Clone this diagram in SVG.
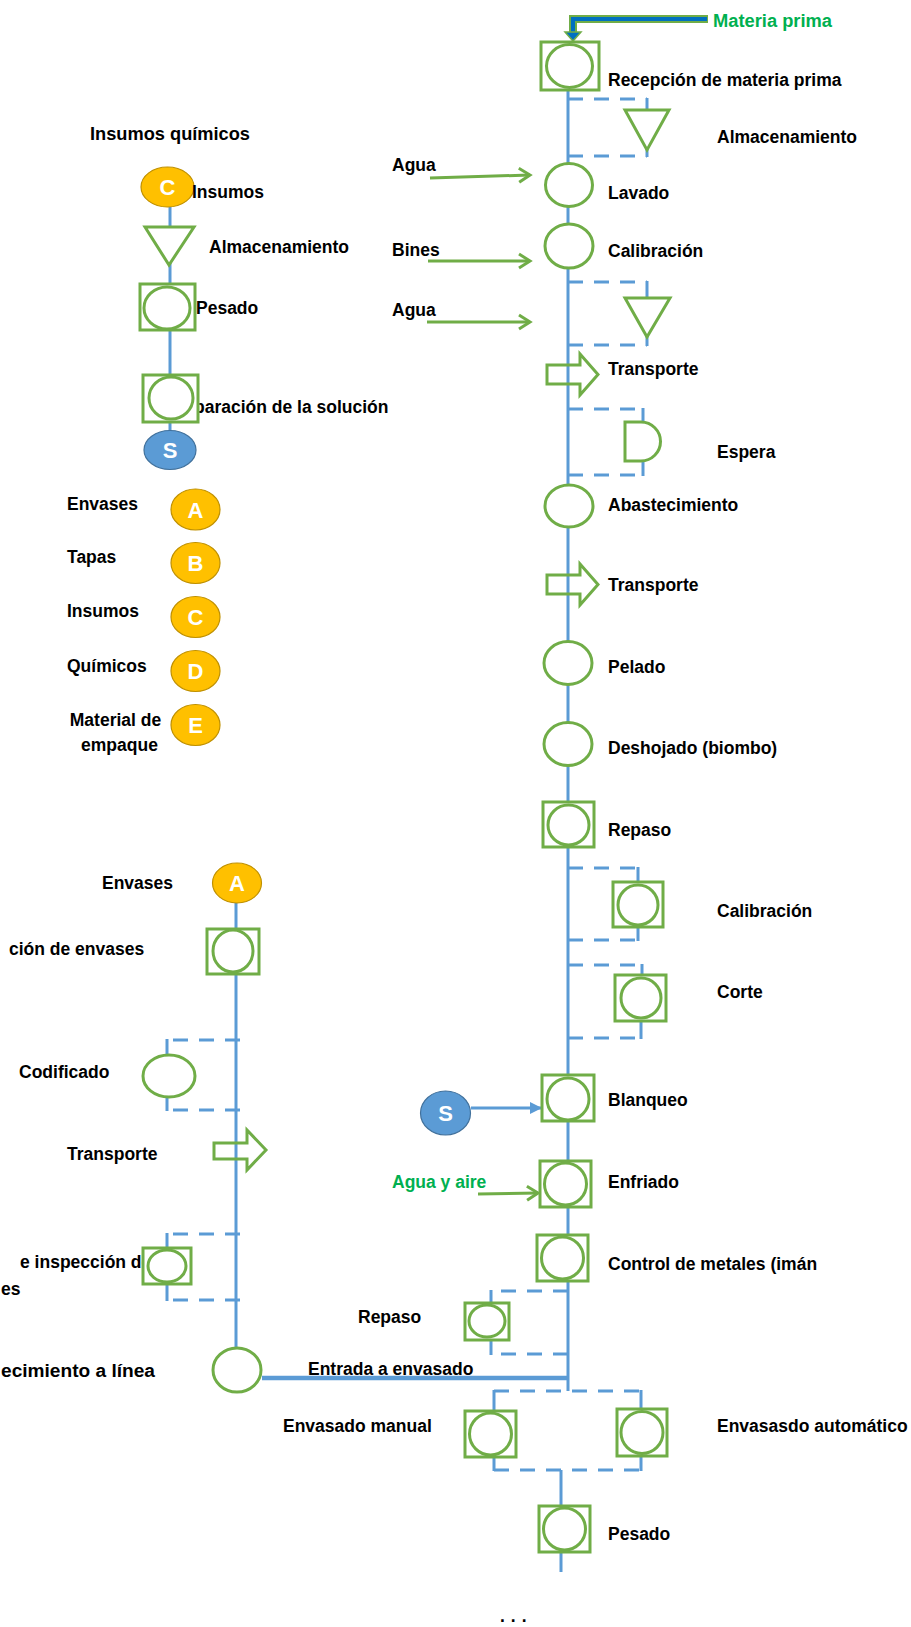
<svg xmlns="http://www.w3.org/2000/svg" width="911" height="1627" viewBox="0 0 911 1627">
<defs>
<style>
text{font-family:"Liberation Sans",Arial,sans-serif;font-weight:bold;font-size:17.5px;fill:#000}
.g{fill:#00B050}
.cl{font-size:22px;fill:#fff;text-anchor:middle}
.ln{fill:none;stroke:#5B9BD5;stroke-width:3}
.ds{fill:none;stroke:#5B9BD5;stroke-width:3;stroke-dasharray:15 11}
.vs{fill:none;stroke:#5B9BD5;stroke-width:3}
.sh{fill:#fff;stroke:#70AD47;stroke-width:3}
.tr{fill:none;stroke:#70AD47;stroke-width:3}
.in{fill:none;stroke:#70AD47;stroke-width:3}
.or{fill:#FFC000;stroke:#BF9000;stroke-width:1.2}
.bl{fill:#5B9BD5;stroke:#41719C;stroke-width:1.2}
</style>
<marker id="va" markerUnits="userSpaceOnUse" markerWidth="16" markerHeight="18" refX="13" refY="9" orient="auto">
<path d="M2,2 L13,9 L2,16" fill="none" stroke="#70AD47" stroke-width="3"/>
</marker>
<marker id="ba" markerUnits="userSpaceOnUse" markerWidth="14" markerHeight="14" refX="12" refY="7" orient="auto">
<path d="M0,1 L12,7 L0,13 Z" fill="#5B9BD5"/>
</marker>
</defs>

<g id="connectors">
<line class="ln" x1="568" y1="90" x2="568" y2="1391"/>
<line x1="262" y1="1378" x2="568" y2="1378" stroke="#5B9BD5" stroke-width="4.5"/>
<line class="ln" x1="170" y1="207" x2="170" y2="431"/>
<line class="ln" x1="236" y1="903" x2="236" y2="1348"/>
<line class="ln" x1="561" y1="1470" x2="561" y2="1506"/>
<line class="ln" x1="561" y1="1552" x2="561" y2="1572"/>
<path class="ds" d="M568,99 H647"/><path class="vs" d="M647,98 V110"/>
<path class="ds" d="M568,156 H647"/><path class="vs" d="M647,144 V157"/>
<path class="ds" d="M568,282 H647"/><path class="vs" d="M647,281 V298"/>
<path class="ds" d="M568,345 H647"/><path class="vs" d="M647,331 V346"/>
<path class="ds" d="M568,409 H643"/><path class="vs" d="M643,408 V422"/>
<path class="ds" d="M568,475 H643"/><path class="vs" d="M643,460 V476"/>
<path class="ds" d="M568,868 H638"/><path class="vs" d="M638,867 V882"/>
<path class="ds" d="M568,940 H638"/><path class="vs" d="M638,927 V941"/>
<path class="ds" d="M568,965 H642"/><path class="vs" d="M642,964 V975"/>
<path class="ds" d="M568,1038 H641"/><path class="vs" d="M641,1021 V1039"/>
<path class="ds" d="M568,1291 H491"/><path class="vs" d="M491,1290 V1303"/>
<path class="ds" d="M568,1354 H491"/><path class="vs" d="M491,1340 V1355"/>
<path class="ds" d="M494,1391 H641"/><path class="vs" d="M494,1390 V1411"/><path class="vs" d="M641,1390 V1409"/>
<path class="ds" d="M494,1470 H641"/><path class="vs" d="M494,1457 V1471"/><path class="vs" d="M641,1456 V1471"/>
<path class="ds" d="M240,1040 H167"/><path class="vs" d="M167,1039 V1055"/>
<path class="ds" d="M240,1110 H167"/><path class="vs" d="M167,1097 V1111"/>
<path class="ds" d="M240,1234 H167"/><path class="vs" d="M167,1233 V1248"/>
<path class="ds" d="M240,1300 H167"/><path class="vs" d="M167,1284 V1301"/>
<line class="in" x1="430" y1="178" x2="530" y2="175" marker-end="url(#va)"/>
<line class="in" x1="428" y1="261" x2="530" y2="261" marker-end="url(#va)"/>
<line class="in" x1="427" y1="322" x2="530" y2="322" marker-end="url(#va)"/>
<line class="in" x1="478" y1="1194" x2="538" y2="1193" marker-end="url(#va)"/>
<line x1="471" y1="1108" x2="542" y2="1108" stroke="#5B9BD5" stroke-width="3" marker-end="url(#ba)"/>
<path d="M708,19 H573 V33" fill="none" stroke="#70AD47" stroke-width="8"/>
<path d="M707,19 H573 V34" fill="none" stroke="#0070C0" stroke-width="4"/>
<path d="M565,32 H581 L573,41 Z" fill="#0070C0" stroke="#70AD47" stroke-width="1.5"/>
</g>

<g id="materia-prima"><text class="g" x="713" y="27" textLength="119" lengthAdjust="spacingAndGlyphs">Materia prima</text></g>
<g id="recepcion"><rect class="sh" x="541" y="42" width="58" height="48"/><ellipse class="sh" cx="569.5" cy="66" rx="23" ry="21.5"/><text x="608" y="86">Recepción de materia prima</text></g>
<g id="almacenamiento1"><polygon class="sh" points="625,110 669,110 647,150"/><text x="717" y="143">Almacenamiento</text></g>
<g id="agua1"><text x="392" y="171">Agua</text></g>
<g id="lavado"><ellipse class="sh" cx="569" cy="185" rx="23.5" ry="21.5"/><text x="608" y="199">Lavado</text></g>
<g id="bines"><text x="392" y="256">Bines</text></g>
<g id="calibracion1"><ellipse class="sh" cx="569" cy="246" rx="24" ry="22"/><text x="608" y="257">Calibración</text></g>
<g id="almacenamiento2"><polygon class="sh" points="625,298 670,298 647,337"/></g>
<g id="agua2"><text x="392" y="316">Agua</text></g>
<g id="transporte1"><polygon class="tr" points="547,365 580,365 580,354 598,374.5 580,395 580,384 547,384"/><text x="608" y="375">Transporte</text></g>
<g id="espera"><path class="sh" d="M625,422 H641 A19.5,19.5 0 0 1 641,461 H625 Z" stroke-width="2.5"/><text x="717" y="458">Espera</text></g>
<g id="abastecimiento"><ellipse class="sh" cx="569" cy="506" rx="24" ry="21"/><text x="608" y="511">Abastecimiento</text></g>
<g id="transporte2"><polygon class="tr" points="547,575 580,575 580,564 598,584.5 580,605 580,594 547,594"/><text x="608" y="591">Transporte</text></g>
<g id="pelado"><ellipse class="sh" cx="568" cy="663" rx="24" ry="21.5"/><text x="608" y="673">Pelado</text></g>
<g id="deshojado"><ellipse class="sh" cx="568" cy="744" rx="24" ry="21.5"/><text x="608" y="754">Deshojado (biombo)</text></g>
<g id="repaso1"><rect class="sh" x="543" y="802" width="51" height="45"/><ellipse class="sh" cx="568.5" cy="825" rx="20.5" ry="20"/><text x="608" y="836">Repaso</text></g>
<g id="calibracion2"><rect class="sh" x="613" y="882" width="50" height="45"/><ellipse class="sh" cx="638" cy="905" rx="20" ry="20"/><text x="717" y="917">Calibración</text></g>
<g id="corte"><rect class="sh" x="615" y="975" width="51" height="46"/><ellipse class="sh" cx="641" cy="998" rx="20" ry="20"/><text x="717" y="998">Corte</text></g>
<g id="blanqueo"><rect class="sh" x="542" y="1075" width="52" height="46"/><ellipse class="sh" cx="568" cy="1099" rx="21" ry="21"/><text x="608" y="1106">Blanqueo</text></g>
<g id="s-right"><ellipse class="bl" cx="445.5" cy="1113" rx="25" ry="22"/><text class="cl" x="445.5" y="1121">S</text></g>
<g id="enfriado"><rect class="sh" x="540" y="1161" width="51" height="46"/><ellipse class="sh" cx="565.5" cy="1184" rx="21" ry="21"/><text x="608" y="1188">Enfriado</text></g>
<g id="agua-aire"><text class="g" x="392" y="1188">Agua y aire</text></g>
<g id="control"><rect class="sh" x="537" y="1235" width="51" height="46"/><ellipse class="sh" cx="562.5" cy="1258" rx="21" ry="21"/><text x="608" y="1270">Control de metales (imán</text></g>
<g id="repaso2"><rect class="sh" x="465" y="1303" width="44" height="37"/><ellipse class="sh" cx="487" cy="1321" rx="18" ry="16"/><text x="358" y="1323">Repaso</text></g>
<g id="entrada"><text x="308" y="1375">Entrada a envasado</text></g>
<g id="envasado-manual"><rect class="sh" x="465" y="1411" width="51" height="46"/><ellipse class="sh" cx="490.5" cy="1434" rx="21" ry="21"/><text x="283" y="1432">Envasado manual</text></g>
<g id="envasado-auto"><rect class="sh" x="617" y="1409" width="50" height="47"/><ellipse class="sh" cx="642" cy="1432.5" rx="21" ry="21"/><text x="717" y="1432">Envasasdo automático</text></g>
<g id="pesado2"><rect class="sh" x="539" y="1506" width="51" height="46"/><ellipse class="sh" cx="564.5" cy="1529" rx="21" ry="21"/><text x="608" y="1540">Pesado</text></g>
<g id="ellipsis"><text x="500" y="1622" letter-spacing="6">...</text></g>

<g id="insumos-quimicos"><text x="90" y="140" textLength="160" lengthAdjust="spacingAndGlyphs">Insumos químicos</text></g>
<g id="c-top"><ellipse class="or" cx="167.5" cy="187" rx="26.5" ry="20"/><text class="cl" x="167.5" y="195">C</text><text x="192" y="198">Insumos</text></g>
<g id="almacenamiento-left"><polygon class="sh" points="145,227 194,227 169,265"/><text x="209" y="253">Almacenamiento</text></g>
<g id="pesado-left"><rect class="sh" x="140" y="284" width="55" height="46"/><ellipse class="sh" cx="167" cy="308" rx="23" ry="21"/><text x="196" y="314">Pesado</text></g>
<g id="preparacion"><text x="194" y="413">paración de la solución</text><rect class="sh" x="143" y="375" width="55" height="47"/><ellipse class="sh" cx="171" cy="398" rx="22" ry="21"/></g>
<g id="s-left"><ellipse class="bl" cx="170" cy="450" rx="26" ry="19.5"/><text class="cl" x="170" y="458">S</text></g>

<g id="leg-a"><text x="67" y="510">Envases</text><ellipse class="or" cx="195.5" cy="509.5" rx="24.5" ry="20.5"/><text class="cl" x="195.5" y="517.5">A</text></g>
<g id="leg-b"><text x="67" y="563">Tapas</text><ellipse class="or" cx="195.5" cy="563" rx="24.5" ry="20.5"/><text class="cl" x="195.5" y="571">B</text></g>
<g id="leg-c"><text x="67" y="617">Insumos</text><ellipse class="or" cx="195.5" cy="617" rx="24.5" ry="20.5"/><text class="cl" x="195.5" y="625">C</text></g>
<g id="leg-d"><text x="67" y="672">Químicos</text><ellipse class="or" cx="195.5" cy="671" rx="24.5" ry="20.5"/><text class="cl" x="195.5" y="679">D</text></g>
<g id="leg-e"><text x="115.5" y="726" text-anchor="middle">Material de</text><text x="119.5" y="751" text-anchor="middle">empaque</text><ellipse class="or" cx="195.5" cy="725" rx="24.5" ry="20.5"/><text class="cl" x="195.5" y="733">E</text></g>

<g id="a-envases"><text x="102" y="889">Envases</text><ellipse class="or" cx="237" cy="883" rx="24.5" ry="20"/><text class="cl" x="237" y="891">A</text></g>
<g id="recepcion-envases"><rect class="sh" x="207" y="929" width="52" height="45"/><ellipse class="sh" cx="233" cy="951" rx="20" ry="21"/><text x="9" y="955">ción de envases</text></g>
<g id="codificado"><ellipse class="sh" cx="169" cy="1076" rx="26" ry="21"/><text x="19" y="1078">Codificado</text></g>
<g id="transporte-left"><polygon class="tr" points="214,1143 247,1143 247,1130 266,1150 247,1170 247,1159 214,1159"/><text x="67" y="1160">Transporte</text></g>
<g id="inspeccion"><text x="20" y="1268">e inspección de</text><text x="1" y="1295">es</text><rect class="sh" x="143" y="1248" width="48" height="36"/><ellipse class="sh" cx="167" cy="1266" rx="19" ry="16"/></g>
<g id="abastecimiento-linea"><ellipse class="sh" cx="237" cy="1370" rx="24" ry="22"/><text x="1" y="1377" textLength="154" lengthAdjust="spacingAndGlyphs">ecimiento a línea</text></g>
</svg>
